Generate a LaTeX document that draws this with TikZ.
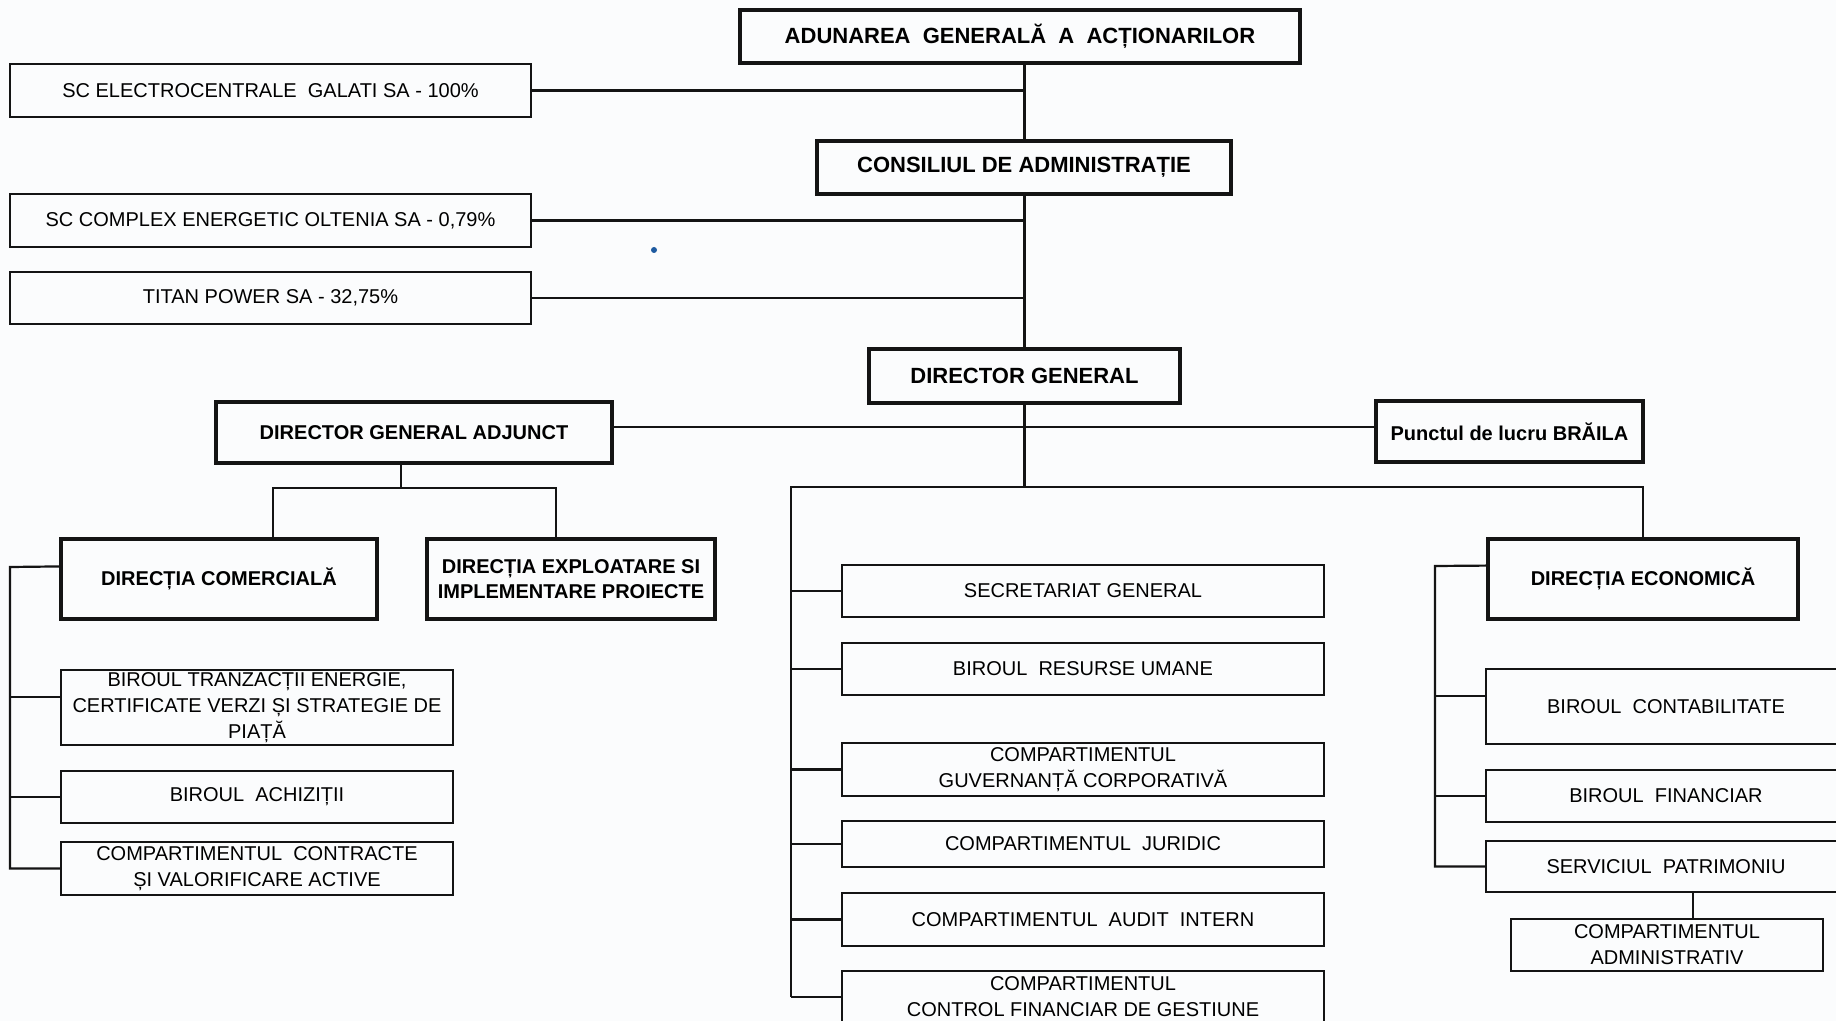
\documentclass[tikz,border=0pt]{standalone}
\usepackage{fontspec}
\setmainfont{Liberation Sans}
\usetikzlibrary{calc}
\definecolor{ink}{RGB}{20,20,20}
\definecolor{bg}{RGB}{251,252,253}
\definecolor{dotblue}{RGB}{30,90,160}
\tikzset{
  thinbox/.style={draw=ink, line width=1.1pt, inner sep=0pt, align=center, font=\fontsize{10}{13}\selectfont},
  thickbox/.style={draw=ink, line width=1.9pt, inner sep=0pt, align=center, font=\bfseries\fontsize{10}{12.5}\selectfont},
  bigbox/.style={thickbox, font=\bfseries\fontsize{11}{13}\selectfont},
  conn/.style={draw=ink, line width=1.1pt},
}
\newcommand\bx[7]{%
  \pgfmathsetmacro\bxcx{(#2+#4)/2}%
  \pgfmathsetmacro\bxcy{(#3+#5)/2}%
  \pgfmathsetmacro\bxw{(#4-#2)*0.5}%
  \pgfmathsetmacro\bxh{(#5-#3)*0.5}%
  \node[#6, minimum width=\bxw pt, minimum height=\bxh pt] (#1) at (\bxcx,\bxcy) {#7};}
\begin{document}
\begin{tikzpicture}[x=0.5pt,y=-0.5pt]
\path[fill=bg] (0,0) rectangle (1836,1021);
\useasboundingbox (0,0) rectangle (1836,1021);
\clip (0,0) rectangle (1836,1021);
% top column
\bx{aga}{740}{10}{1300}{63}{bigbox}{ADUNAREA~~GENERALĂ~~A~~ACȚIONARILOR}
\bx{sce}{10}{64}{531}{117}{thinbox}{SC ELECTROCENTRALE~~GALATI SA - 100\%}
\bx{ca}{817}{141}{1231}{194}{bigbox}{CONSILIUL DE ADMINISTRAȚIE}
\bx{ceo}{10}{194}{531}{247}{thinbox}{SC COMPLEX ENERGETIC OLTENIA SA - 0,79\%}
\bx{tp}{10}{272}{531}{324}{thinbox}{TITAN POWER SA - 32,75\%}
\bx{dg}{869}{349}{1180}{403}{bigbox}{DIRECTOR GENERAL}
\bx{dga}{216}{402}{612}{463}{thickbox}{DIRECTOR GENERAL ADJUNCT}
\bx{pb}{1376}{401}{1643}{462}{thickbox}{Punctul de lucru BRĂILA}
% left branch
\bx{dc}{61}{539}{377}{619}{thickbox}{DIRECȚIA COMERCIALĂ}
\bx{de}{427}{539}{715}{619}{thickbox}{DIRECȚIA EXPLOATARE SI\\IMPLEMENTARE PROIECTE}
\bx{bte}{61}{670}{453}{745}{thinbox}{BIROUL TRANZACȚII ENERGIE,\\CERTIFICATE VERZI ȘI STRATEGIE DE\\PIAȚĂ}
\bx{ba}{61}{771}{453}{823}{thinbox}{BIROUL~~ACHIZIȚII}
\bx{cc}{61}{842}{453}{895}{thinbox}{COMPARTIMENTUL~~CONTRACTE\\ȘI VALORIFICARE ACTIVE}
% centre column
\bx{sg}{842}{565}{1324}{617}{thinbox}{SECRETARIAT GENERAL}
\bx{bru}{842}{643}{1324}{695}{thinbox}{BIROUL~~RESURSE UMANE}
\bx{cgc}{842}{743}{1324}{796}{thinbox}{COMPARTIMENTUL\\GUVERNANȚĂ CORPORATIVĂ}
\bx{cj}{842}{821}{1324}{867}{thinbox}{COMPARTIMENTUL~~JURIDIC}
\bx{cai}{842}{893}{1324}{946}{thinbox}{COMPARTIMENTUL~~AUDIT~~INTERN}
\bx{ccf}{842}{971}{1324}{1023}{thinbox}{COMPARTIMENTUL\\CONTROL FINANCIAR DE GESTIUNE}
% right branch
\bx{dec}{1488}{539}{1798}{619}{thickbox}{DIRECȚIA ECONOMICĂ}
\bx{bc}{1486}{669}{1846}{744}{thinbox}{BIROUL~~CONTABILITATE}
\bx{bf}{1486}{770}{1846}{822}{thinbox}{BIROUL~~FINANCIAR}
\bx{sp}{1486}{841}{1846}{892}{thinbox}{SERVICIUL~~PATRIMONIU}
\bx{cad}{1511}{919}{1823}{971}{thinbox}{COMPARTIMENTUL\\ADMINISTRATIV}
% junction coordinates
\coordinate (hub) at (1025,487);
\coordinate (hy) at (1025,427);
\coordinate (cl) at (791,487);
\coordinate (dj) at (401,488);
\coordinate (d1) at (273,488);
\coordinate (d2) at (556,488);
\coordinate (lb) at (10,567);
\coordinate (rb) at (1435,566);
\coordinate (pj) at (1693,892);
% connectors
\draw[conn] (ca.north -| dg.north) -- (dg.north |- aga.south);
\draw[conn] (dg.north) -- (dg.north |- ca.south);
\draw[conn] (sce.east) -- (sce.east -| dg.north);
\draw[conn] (ceo.east) -- (ceo.east -| dg.north);
\draw[conn] (tp.east) -- (tp.east -| dg.north);
\draw[conn] (dga.east |- hy) -- (pb.west |- hy);
\draw[conn] (dg.south) -- (dg.south |- hub);
\draw[conn] (cl |- ccf.west) -- (cl) -| (dec.north);
\foreach \b in {sg,bru,cgc,cj,cai,ccf} \draw[conn] (cl |- \b.west) -- (\b.west);
\draw[conn] (dj |- dga.south) -- (dj);
\draw[conn] (d1 |- dc.north) -- (d1) -- (d2) -- (d2 |- de.north);
\draw[conn] ($(dc.north west)!0.35!(dc.south west)$) -- (lb) -- (lb |- cc.west) -- (cc.west);
\draw[conn] (lb |- ba.west) -- (ba.west);
\draw[conn] (lb |- {$(bte.north west)!0.36!(bte.south west)$}) -- ($(bte.north west)!0.36!(bte.south west)$);
\draw[conn] ($(dec.north west)!0.34!(dec.south west)$) -- (rb) -- (rb |- sp.west) -- (sp.west);
\draw[conn] (rb |- bf.west) -- (bf.west);
\draw[conn] (rb |- {$(bc.north west)!0.36!(bc.south west)$}) -- ($(bc.north west)!0.36!(bc.south west)$);
\draw[conn] (pj) -- (pj |- cad.north);
% scanner speck
\fill[dotblue] (654,250) circle (3);
\end{tikzpicture}
\end{document}
